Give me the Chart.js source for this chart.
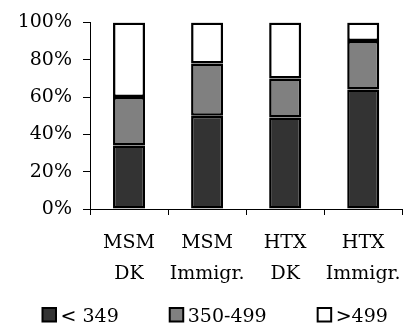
<!DOCTYPE html>
<html>
<head>
<meta charset="utf-8">
<script src="https://cdn.jsdelivr.net/npm/chart.js@4"></script>
<style>
  html, body { margin: 0; padding: 0; background: #fff; overflow: hidden; }
  #wrap { width: 413px; height: 323px; }
</style>
</head>
<body>
<div id="wrap"><canvas id="grafica" width="413" height="323"></canvas></div>
<script>
const categorias = [['MSM', 'DK'], ['MSM', 'Immigr.'], ['HTX', 'DK'], ['HTX', 'Immigr.']];
const bajo = [34, 50, 49, 64];      // < 349
const medio = [26, 28, 21, 26];     // 350-499
const alto = [40, 22, 30, 10];      // >499
const ticksY = [0, 20, 40, 60, 80, 100];

const fuente = { family: "'DejaVu Serif', serif", size: 19 };

// leyenda dibujada a mano: cuadro pegado al texto y mucho espacio entre items
const leyenda = {
  id: 'leyenda',
  afterDraw(chart) {
    const c = chart.ctx;
    c.save();
    c.font = "19px 'DejaVu Serif', serif";
    c.textBaseline = 'alphabetic';
    let x = 42.5;
    const y = 308;
    chart.data.datasets.forEach(d => {
      c.fillStyle = d.backgroundColor;
      c.fillRect(x, y, 13.5, 13.5);
      c.strokeStyle = '#000';
      c.lineWidth = 2;
      c.strokeRect(x, y, 13.5, 13.5);
      c.fillStyle = '#000';
      c.fillText(d.label, x + 18, y + 14);
      x += 18 + c.measureText(d.label).width + 51;
    });
    c.restore();
  }
};

var ctx = document.getElementById('grafica').getContext('2d');
new Chart(ctx, {
  type: 'bar',
  data: {
    labels: categorias,
    datasets: [
      { label: '< 349', data: bajo, backgroundColor: '#333333' },
      { label: '350-499', data: medio, backgroundColor: '#808080' },
      { label: '>499', data: alto, backgroundColor: '#ffffff' }
    ].map(d => Object.assign(d, {
      borderColor: '#000', borderWidth: 2.5, borderSkipped: false,
      categoryPercentage: 1, barPercentage: 0.41
    }))
  },
  options: {
    responsive: false,
    animation: false,
    layout: { padding: { top: 13, right: 3, left: 0, bottom: 34 } },
    plugins: {
      tooltip: { enabled: false },
      legend: { display: false }
    },
    scales: {
      x: {
        stacked: true,
        afterFit: function (scale) { scale.height = 80; },
        grid: { offset: true, drawOnChartArea: false, color: '#000', tickLength: 6 },
        border: { color: '#000', width: 1 },
        ticks: { font: Object.assign({ lineHeight: 1.66 }, fuente), color: '#000', maxRotation: 0, padding: 12 }
      },
      y: {
        stacked: true,
        min: 0, max: 100,
        afterBuildTicks: function (scale) { scale.ticks = ticksY.map(v => ({ value: v })); },
        afterFit: function (scale) { scale.width = 90; },
        grid: { drawOnChartArea: false, color: '#000', tickLength: 7 },
        border: { color: '#000', width: 1 },
        ticks: { font: fuente, color: '#000', padding: 11, autoSkip: false, callback: v => v + '%' }
      }
    }
  },
  plugins: [leyenda]
});
</script>
</body>
</html>
